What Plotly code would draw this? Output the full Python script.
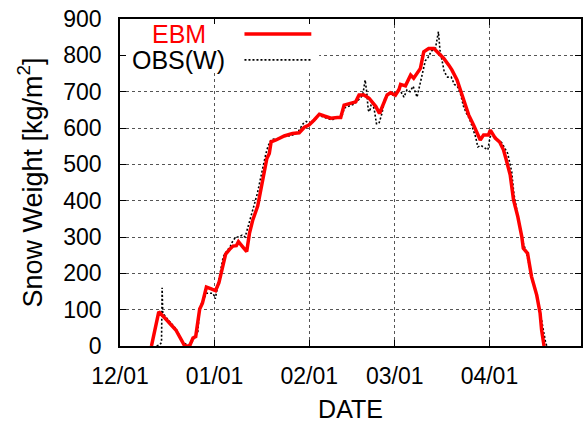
import pandas as pd
import plotly.graph_objects as go

# Season start; x values below are days since this date
SEASON_START = "2005-12-01"

# Energy-balance model snow weight [kg/m2]
ebm_day = [10.3, 12.7, 14.7, 16.9, 18.3, 20.1, 21.2, 22.8, 23.9, 24.8, 26.1, 27.0,
           28.3, 29.9, 31.3, 32.4, 33.5, 34.6, 35.9, 37.0, 38.1, 38.8, 40.2, 41.5,
           42.4, 43.5, 45.1, 46.2, 47.3, 48.1, 48.9, 49.5, 51.1, 53.8, 56.5, 58.7,
           60.4, 61.9, 63.6, 65.3, 66.9, 69.1, 71.2, 72.3, 73.4, 75.6, 77.2, 78.3,
           79.9, 81.6, 83.8, 85.0, 85.9, 87.5, 88.6, 90.2, 91.4, 91.9, 93.5, 95.2,
           96.2, 97.3, 98.4, 99.5, 101.1, 102.8, 104.4, 106.0, 107.7, 108.7, 110.4,
           111.5, 112.6, 114.2, 115.8, 116.9, 118.0, 119.1, 120.7, 121.3, 122.9,
           124.3, 125.6, 126.4, 127.8, 128.9, 130.3, 131.6, 132.1, 133.5, 134.8,
           136.5, 137.6, 138.1, 138.9]
ebm_val = [0, 94, 77, 55, 44, 17, 0, 0, 22, 26, 102, 118,
           162, 157, 152, 174, 218, 253, 266, 275, 276, 287, 273, 260,
           310, 347, 385, 434, 480, 516, 530, 562, 567, 578, 585, 587,
           602, 608, 622, 638, 633, 627, 629, 629, 663, 668, 672, 691,
           691, 682, 659, 640, 659, 691, 697, 690, 706, 720, 716, 746,
           737, 750, 764, 810, 819, 819, 806, 792, 773, 760, 732,
           704, 672, 636, 608, 590, 567, 581, 581, 594, 572,
           562, 540, 516, 471, 402, 356, 301, 269, 255, 191,
           140, 90, 44, 0]

# Observed snow weight
obs_day = [12.0, 13.0, 13.6, 13.8, 14.0, 15.0, 16.5, 17.5, 18.5, 19.5, 20.5, 21.5,
           22.5, 23.5, 24.5, 25.5, 26.0, 26.8, 27.5, 28.3, 29.5, 30.5, 31.2, 31.8,
           32.8, 33.8, 35.0, 36.0, 37.0, 38.0, 39.0, 40.0, 41.0, 42.0, 43.0, 44.0,
           45.0, 46.0, 47.0, 47.8, 48.5, 49.5, 51.0, 52.5, 54.0, 55.5, 57.0, 58.5,
           60.0, 61.0, 62.0, 63.5, 65.0, 66.5, 68.0, 69.5, 71.0, 72.5, 73.5, 75.0,
           76.5, 77.5, 78.5, 79.5, 80.3, 80.8, 81.3, 81.8, 82.5, 83.3, 84.0, 84.8,
           85.8, 86.8, 88.0, 89.5, 91.0, 92.0, 93.0, 94.0, 95.0, 96.0, 97.3, 98.2,
           99.0, 100.0, 101.0, 102.0, 103.3, 104.3, 104.8, 105.5, 106.2, 107.3, 108.5,
           109.5, 110.5, 111.5, 112.5, 113.5, 114.5, 115.5, 116.5, 117.2, 118.2, 119.5,
           120.5, 121.2, 122.0, 123.0, 124.0, 125.0, 126.0, 127.0, 127.5, 128.3, 129.0,
           130.0, 131.0, 132.0, 133.0, 134.0, 135.0, 136.0, 137.0, 138.0, 138.7, 139.4,
           139.8]
obs_val = [0, 3, 10, 160, 90, 80, 62, 52, 45, 28, 12, 5,
           3, 10, 25, 40, 95, 120, 130, 145, 145, 145, 130, 160,
           200, 245, 262, 272, 290, 300, 300, 305, 300, 330, 360, 395,
           420, 460, 500, 530, 550, 568, 570, 572, 580, 578, 582, 592,
           612, 618, 612, 618, 635, 630, 625, 622, 630, 628, 655, 660,
           665, 672, 680, 690, 732, 700, 650, 645, 675, 650, 612, 612,
           640, 685, 695, 690, 705, 700, 685, 705, 700, 715, 685, 720,
           745, 785, 795, 812, 818, 865, 815, 780, 755, 740, 740,
           720, 715, 695, 660, 640, 625, 600, 575, 548, 552, 545,
           540, 575, 583, 575, 565, 560, 545, 530, 510, 480, 420,
           370, 325, 285, 260, 225, 180, 155, 120, 75, 40, 10,
           0]

tick_dates = ["2005-12-01", "2006-01-01", "2006-02-01", "2006-03-01", "2006-04-01"]
tick_labels = ["12/01", "01/01", "02/01", "03/01", "04/01"]
y_ticks = [0, 100, 200, 300, 400, 500, 600, 700, 800, 900]

start = pd.Timestamp(SEASON_START)
ebm_x = start + pd.to_timedelta(ebm_day, unit="D")
obs_x = start + pd.to_timedelta(obs_day, unit="D")

FONT = "Liberation Sans, Arial, Helvetica, sans-serif"

fig = go.Figure()
fig.add_trace(go.Scatter(x=obs_x, y=obs_val, mode="lines", name="OBS(W)",
                         line=dict(color="black", width=1.6, dash="2px,2px")))
fig.add_trace(go.Scatter(x=ebm_x, y=ebm_val, mode="lines", name="EBM",
                         line=dict(color="#ff0000", width=3.5)))

axis_common = dict(
    showline=True, linecolor="black", linewidth=1.5, mirror="ticks",
    ticks="inside", ticklen=6, tickwidth=1, tickcolor="black",
    showgrid=True, gridcolor="#555555", gridwidth=1, griddash="dot",
    zeroline=False,
    tickfont=dict(family=FONT, size=23, color="black"),
)

fig.update_xaxes(
    **axis_common,
    type="date",
    range=["2005-12-01", "2006-05-01"],
    tickvals=tick_dates, ticktext=tick_labels,
    ticklabelstandoff=9,
    title=dict(text="DATE", font=dict(family=FONT, size=25, color="black"), standoff=14),
)
fig.update_yaxes(
    **axis_common,
    range=[0, 900],
    tickvals=y_ticks,
    ticklabelstandoff=12,
    title=dict(text="Snow Weight [kg/m<sup>2</sup>]",
               font=dict(family=FONT, size=27, color="black"), standoff=13),
)

# Key area: opaque box with labels followed by line samples
fig.add_shape(type="rect", xref="paper", yref="paper",
              x0=0.013, x1=0.432, y0=0.835, y1=0.985,
              fillcolor="white", line=dict(width=0), layer="above")
fig.add_shape(type="line", xref="paper", yref="paper",
              x0=0.270, x1=0.415, y0=0.954, y1=0.954,
              line=dict(color="#ff0000", width=3.5))
fig.add_shape(type="line", xref="paper", yref="paper",
              x0=0.270, x1=0.415, y0=0.875, y1=0.875,
              line=dict(color="black", width=1.6, dash="2px,2px"))
fig.add_annotation(xref="paper", yref="paper", x=0.190, y=0.954,
                   xanchor="right", yanchor="middle", showarrow=False,
                   text="EBM", font=dict(family=FONT, size=25, color="#ff0000"))
fig.add_annotation(xref="paper", yref="paper", x=0.233, y=0.875,
                   xanchor="right", yanchor="middle", showarrow=False,
                   text="OBS(W)", font=dict(family=FONT, size=25, color="black"))

fig.update_layout(
    width=585, height=423,
    margin=dict(l=120, r=2, t=19, b=77),
    paper_bgcolor="white", plot_bgcolor="white",
    showlegend=False,
)

fig.write_html("out.html")
